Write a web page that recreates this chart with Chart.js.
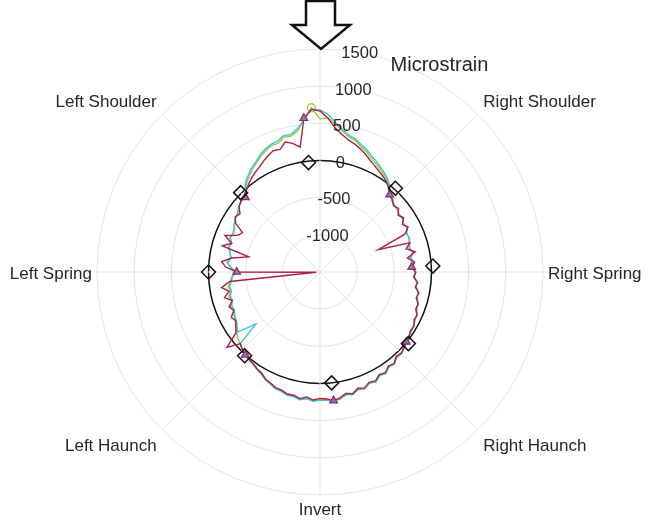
<!DOCTYPE html>
<html>
<head>
<meta charset="utf-8">
<script src="https://cdn.jsdelivr.net/npm/chart.js@4.4.1/dist/chart.umd.min.js"></script>
<style>
  html, body { margin: 0; padding: 0; background: #fff; }
  #wrap { width: 647px; height: 522px; }
</style>
</head>
<body>
<div id="wrap"><canvas id="polarChart" width="647" height="522"></canvas></div>
<script>
// 120 stations round the lining, 3 degrees apart, clockwise from the crown
const stationCount = 120;
const positionLabels = ['', 'Right Shoulder', 'Right Spring', 'Right Haunch', 'Invert', 'Left Haunch', 'Left Spring', 'Left Shoulder'];
const radialTicks = [1500, 1000, 500, 0, -500, -1000];

// gauge stations (diamonds = design strain, triangles sit on the measured lines)
const gaugeIndex = [14, 29, 43, 58, 74, 90, 105, 118];
const designStrain = [15, 20, 30, 0, 15, 0, 10, -20];
const peakIndex = 119;

const seriesRed = [
  665, 570, 450, 375, 320, 285, 245, 200, 150, 110, 75, 45, 10, -35, -100,
  -120, -170, -140, -200, -160, -220, -170, -250, -660, -230, -300, -190, -310, -220, -265,
  -210, -240, -180, -200, -140, -160, -110, -120, -70, -80, -40, -50, -20, -5, 20,
  45, 30, 85, 65, 115, 95, 145, 125, 170, 145, 195, 170, 215, 240, 210,
  200, 225, 190, 225, 195, 200, 170, 165, 135, 115, 70, 55, 25, 15, 0,
  -20, -60, 110, -100, -150, -190, -160, -230, -190, -260, -170, -250, -160, -280, -1450,
  -380, -230, -170, -300, -520, -140, -250, -130, -290, -330, -190, -140, -170, -100, -70,
  -80, -20, 25, 65, 100, 130, 175, 215, 250, 235, 310, 270, 200, 580, 690
];
const seriesCyan = [
  680, 620, 520, 440, 380, 350, 300, 260, 210, 170, 130, 90, 50, -10, -90,
  -130, -160, -150, -190, -170, -210, -180, -230, -210, -240, -260, -220, -270, -230, -260,
  -220, -230, -190, -190, -150, -150, -110, -110, -75, -70, -45, -40, -20, 0, 25,
  50, 45, 90, 80, 125, 110, 155, 140, 180, 165, 205, 190, 225, 250, 230,
  225, 240, 215, 240, 215, 215, 190, 180, 150, 125, 85, 60, 35, 15, 0,
  -30, -50, -390, -120, -170, -200, -210, -240, -230, -260, -250, -280, -270, -300, -320,
  -370, -300, -250, -290, -260, -230, -250, -210, -220, -200, -170, -150, -130, -100, -70,
  -60, 10, 80, 130, 180, 220, 270, 310, 340, 350, 400, 390, 450, 560, 700
];
const seriesGreen = [
  560, 575, 500, 420, 360, 330, 275, 235, 185, 145, 105, 70, 30, -20, -95,
  -140, -150, -170, -180, -180, -200, -190, -220, -220, -230, -250, -230, -260, -240, -262,
  -215, -225, -195, -185, -155, -145, -115, -105, -80, -65, -50, -35, -25, -3, 15,
  55, 35, 95, 70, 130, 100, 160, 130, 185, 155, 210, 180, 230, 245, 220,
  215, 235, 205, 235, 205, 210, 180, 175, 145, 120, 80, 60, 30, 20, 5,
  -25, -55, -80, -110, -160, -195, -200, -235, -215, -255, -230, -270, -250, -290, -310,
  -375, -290, -240, -280, -270, -220, -240, -200, -230, -210, -175, -145, -140, -95, -75,
  -70, 0, 60, 110, 160, 200, 250, 290, 320, 320, 380, 370, 420, 570, 713
];

const labels = [];
const diamonds = [];
for (let i = 0; i < stationCount; i++) {
  labels.push(i % 15 === 0 ? positionLabels[i / 15] : '');
  const g = gaugeIndex.indexOf(i);
  diamonds.push(g >= 0 ? designStrain[g] : null);
}

const FONT = '"Liberation Sans", Arial, sans-serif';
const isGauge = (ctx) => gaugeIndex.includes(ctx.dataIndex);

// labels, r tick labels, axis title and the crown arrow
const overlay = {
  id: 'overlay',
  afterDraw(chart) {
    const s = chart.scales.r;
    const ctx = chart.ctx;
    const cx = s.xCenter, cy = s.yCenter, R = s.drawingArea;
    const deg = Math.PI / 180;
    ctx.save();
    ctx.fillStyle = '#262626';

    ctx.font = '17px ' + FONT;
    chart.data.labels.forEach((lab, i) => {
      if (!lab) return;
      const a = i * 360 / stationCount;
      const p = s.getPointPosition(i, a % 90 === 0 ? R + 5 : R + 8);
      ctx.textAlign = (a === 0 || a === 180) ? 'center' : (a < 180 ? 'left' : 'right');
      ctx.textBaseline = (a === 90 || a === 270) ? 'middle' : ((a < 90 || a > 270) ? 'bottom' : 'top');
      ctx.fillText(lab, p.x, p.y + 2);
    });

    ctx.font = '16.5px ' + FONT;
    ctx.textAlign = 'center';
    ctx.textBaseline = 'middle';
    radialTicks.forEach(v => {
      const p = s.getPointPosition(0, s.getDistanceFromCenterForValue(v), 10 * deg);
      ctx.fillText(String(v), p.x + 1, p.y + 1);
    });

    ctx.font = '20px ' + FONT;
    const t = s.getPointPosition(0, R + 16, 30 * deg);
    ctx.fillText('Microstrain', t.x, t.y);

    // arrow pointing at the crown
    const top = cy - R;
    ctx.strokeStyle = '#111';
    ctx.lineWidth = 2.5;
    ctx.lineJoin = 'miter';
    ctx.beginPath();
    ctx.moveTo(cx - 14, 1);
    ctx.lineTo(cx + 15, 1);
    ctx.lineTo(cx + 15, top - 24);
    ctx.lineTo(cx + 30, top - 24);
    ctx.lineTo(cx + 1, top);
    ctx.lineTo(cx - 28, top - 24);
    ctx.lineTo(cx - 14, top - 24);
    ctx.closePath();
    ctx.stroke();
    ctx.restore();
  }
};

new Chart(document.getElementById('polarChart'), {
  type: 'radar',
  data: {
    labels: labels,
    datasets: [
      {
        label: 'Design',
        data: diamonds,
        showLine: false,
        pointStyle: 'rectRot',
        pointRadius: 7,
        pointBorderWidth: 1.5,
        pointBorderColor: '#111',
        pointBackgroundColor: 'rgba(255,255,255,0)'
      },
      {
        label: 'Red',
        data: seriesRed,
        borderColor: '#b01f45',
        borderWidth: 1.4,
        fill: false,
        pointStyle: 'triangle',
        pointRadius: (ctx) => isGauge(ctx) ? 4.5 : 0,
        pointBorderColor: '#b01f45',
        pointBackgroundColor: '#5a86d6',
        pointBorderWidth: 1.2
      },
      {
        label: 'Cyan',
        data: seriesCyan,
        borderColor: '#3ec3d6',
        borderWidth: 1.4,
        fill: false,
        pointRadius: 0
      },
      {
        label: 'Green',
        data: seriesGreen,
        borderColor: '#a2c93a',
        borderWidth: 1.4,
        fill: false,
        pointStyle: 'circle',
        pointRadius: (ctx) => ctx.dataIndex === peakIndex ? 4 : 0,
        pointBorderColor: '#a2c93a',
        pointBackgroundColor: 'rgba(255,255,255,0)',
        pointBorderWidth: 1.3
      }
    ]
  },
  options: {
    responsive: false,
    animation: false,
    events: [],
    layout: { padding: { top: 49, bottom: 27, left: 0, right: 7 } },
    plugins: { legend: { display: false }, tooltip: { enabled: false } },
    elements: { line: { tension: 0 } },
    scales: {
      r: {
        min: -1500,
        max: 1500,
        ticks: { display: false, stepSize: 500 },
        pointLabels: { display: false },
        grid: {
          circular: true,
          color: (ctx) => ctx.tick && ctx.tick.value === 0 ? '#111' : '#e3e3e3',
          lineWidth: (ctx) => ctx.tick && ctx.tick.value === 0 ? 1.5 : 1
        },
        angleLines: {
          color: '#e3e3e3',
          lineWidth: (ctx) => ctx.index % 15 === 0 ? 1 : 0
        }
      }
    }
  },
  plugins: [overlay]
});
</script>
</body>
</html>
